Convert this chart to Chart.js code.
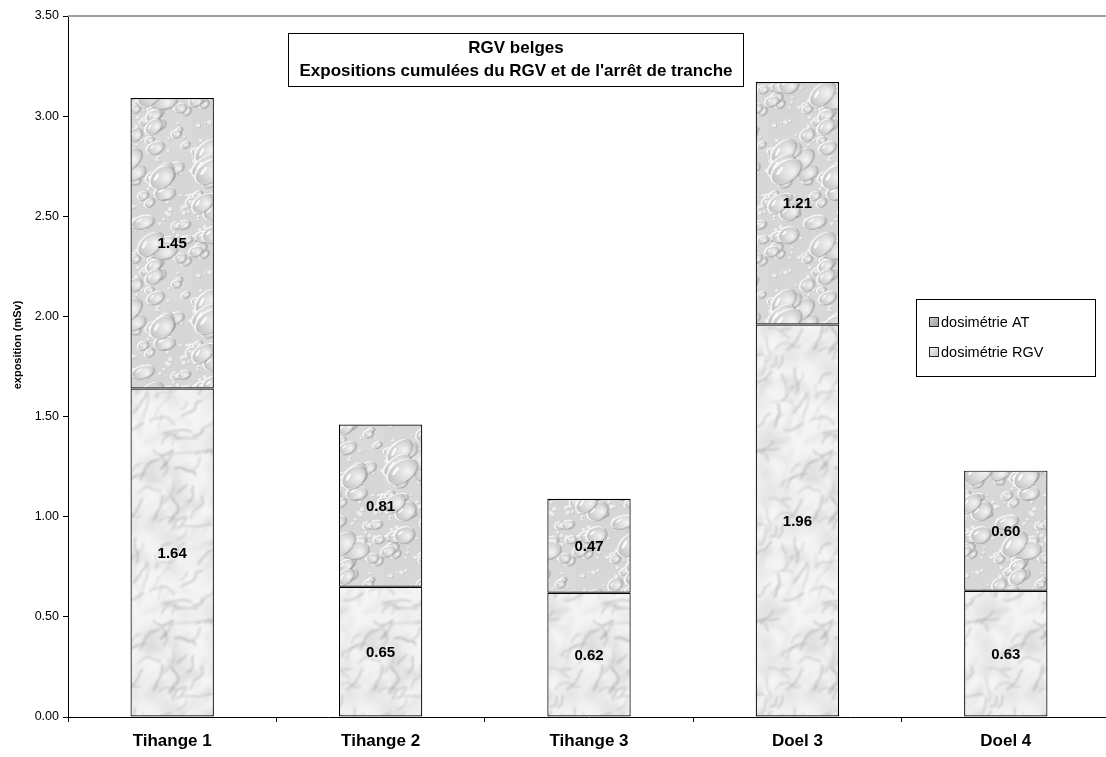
<!DOCTYPE html>
<html>
<head>
<meta charset="utf-8">
<script src="https://cdn.jsdelivr.net/npm/chart.js@4.4.1/dist/chart.umd.min.js"></script>
<style>
  html, body { margin: 0; padding: 0; background: #fff; overflow: hidden; }
  #wrap { width: 1112px; height: 757px; position: relative; }
</style>
</head>
<body>
<div id="wrap"><canvas id="c" width="1112" height="757"></canvas></div>
<script>
// Exposure data (mSv) per unit
const categories = ['Tihange 1', 'Tihange 2', 'Tihange 3', 'Doel 3', 'Doel 4'];
const rgvValues  = [1.64, 0.65, 0.62, 1.96, 0.63];
const atValues   = [1.45, 0.81, 0.47, 1.21, 0.60];
const seriesNames = ['dosimétrie RGV', 'dosimétrie AT'];
const titleLines = ['RGV belges', "Expositions cumulées du RGV et de l'arrêt de tranche"];
const yAxisTitle = 'exposition (mSv)';

const FONT = '"Liberation Sans", Arial, Helvetica, sans-serif';

// Small deterministic generator for the fill textures
function prng(seed) {
  return function () {
    seed |= 0; seed = (seed + 0x6D2B79F5) | 0;
    let t = Math.imul(seed ^ (seed >>> 15), 1 | seed);
    t = (t + Math.imul(t ^ (t >>> 7), 61 | t)) ^ t;
    return ((t ^ (t >>> 14)) >>> 0) / 4294967296;
  };
}

// Draw fn at every wrap offset so the tile repeats without seams
function wrapped(w, h, fn) {
  for (const ox of [-w, 0, w]) for (const oy of [-h, 0, h]) fn(ox, oy);
}

// Water-drop texture tile
function dropletTile(w, h) {
  const c = document.createElement('canvas');
  c.width = w; c.height = h;
  const g = c.getContext('2d');
  const rnd = prng(11);
  const bg = g.createLinearGradient(0, 0, w, h);
  bg.addColorStop(0, '#dbdbdb'); bg.addColorStop(0.5, '#d5d5d5'); bg.addColorStop(1, '#dbdbdb');
  g.fillStyle = bg;
  g.fillRect(0, 0, w, h);
  // tiny background beads
  for (let i = 0; i < 140; i++) {
    const x = rnd() * w, y = rnd() * h, r = 0.8 + rnd() * 1.6;
    wrapped(w, h, (ox, oy) => {
      g.fillStyle = 'rgba(165,165,165,0.5)';
      g.beginPath(); g.arc(x + ox + 0.5, y + oy + 0.6, r, 0, Math.PI * 2); g.fill();
      g.fillStyle = 'rgba(245,245,245,0.85)';
      g.beginPath(); g.arc(x + ox, y + oy, r, 0, Math.PI * 2); g.fill();
    });
  }
  const drops = [];
  for (let i = 0; i < 66; i++) {
    const s = rnd();
    const r = 2.5 + Math.pow(s, 1.9) * 9.5;
    drops.push({ x: rnd() * w, y: rnd() * h, rx: r * (1.05 + rnd() * 0.4), ry: r * (0.7 + rnd() * 0.25), a: -0.8 + rnd() * 0.7 });
  }
  drops.sort((p, q) => p.rx - q.rx);
  for (const d of drops) {
    wrapped(w, h, (ox, oy) => {
      const x = d.x + ox, y = d.y + oy;
      if (x + d.rx + 3 < 0 || x - d.rx - 3 > w || y + d.rx + 3 < 0 || y - d.rx - 3 > h) return;
      g.save();
      g.translate(x, y); g.rotate(d.a);
      g.fillStyle = 'rgba(150,150,150,0.5)';
      g.beginPath(); g.ellipse(0.8, 1.0, d.rx + 0.9, d.ry + 0.9, 0, 0, Math.PI * 2); g.fill();
      g.fillStyle = 'rgba(252,252,252,0.85)';
      g.beginPath(); g.ellipse(-0.8, -0.9, d.rx + 0.6, d.ry + 0.6, 0, 0, Math.PI * 2); g.fill();
      const grad = g.createRadialGradient(d.rx * 0.35, d.ry * 0.4, 0, 0, 0, d.rx * 1.1);
      grad.addColorStop(0, '#f4f4f4');
      grad.addColorStop(0.55, '#d8d8d8');
      grad.addColorStop(1, '#bdbdbd');
      g.fillStyle = grad;
      g.beginPath(); g.ellipse(0, 0, d.rx, d.ry, 0, 0, Math.PI * 2); g.fill();
      if (d.rx > 3.5) {
        g.fillStyle = 'rgba(255,255,255,0.9)';
        g.beginPath(); g.ellipse(-d.rx * 0.3, -d.ry * 0.45, d.rx * 0.32, d.ry * 0.15, -0.3, 0, Math.PI * 2); g.fill();
      }
      g.restore();
    });
  }
  return c;
}

// Marble texture tile
function marbleTile(w, h) {
  const c = document.createElement('canvas');
  c.width = w; c.height = h;
  const g = c.getContext('2d');
  const rnd = prng(33);
  g.fillStyle = '#f3f3f3';
  g.fillRect(0, 0, w, h);
  // soft clouds
  for (let i = 0; i < 70; i++) {
    const x = rnd() * w, y = rnd() * h, r = 6 + rnd() * 16;
    const shade = rnd() < 0.5 ? '185,185,185' : '255,255,255';
    const al = 0.1 + rnd() * 0.15;
    wrapped(w, h, (ox, oy) => {
      const grad = g.createRadialGradient(x + ox, y + oy, 0, x + ox, y + oy, r);
      grad.addColorStop(0, 'rgba(' + shade + ',' + al + ')');
      grad.addColorStop(1, 'rgba(' + shade + ',0)');
      g.fillStyle = grad;
      g.fillRect(x + ox - r, y + oy - r, r * 2, r * 2);
    });
  }
  g.lineCap = 'round';
  g.lineJoin = 'round';
  const drawVeins = (count, blur, lwMin, lwMax, aMin, aMax, dMin, dMax) => {
    g.filter = 'blur(' + blur + 'px)';
    for (let i = 0; i < count; i++) {
      const pts = [];
      let x = rnd() * w, y = rnd() * h;
      pts.push([x, y]);
      const steps = 3 + Math.floor(rnd() * 6);
      let ang = -0.7 + (rnd() - 0.5) * 0.9;
      for (let s = 0; s < steps; s++) {
        ang += (rnd() - 0.5) * 1.1;
        x += Math.cos(ang) * (2 + rnd() * 4);
        y += Math.sin(ang) * (2 + rnd() * 4);
        pts.push([x, y]);
      }
      const dark = dMin + Math.floor(rnd() * (dMax - dMin));
      const style = 'rgba(' + dark + ',' + dark + ',' + dark + ',' + (aMin + rnd() * (aMax - aMin)) + ')';
      const lw = lwMin + rnd() * (lwMax - lwMin);
      wrapped(w, h, (ox, oy) => {
        g.strokeStyle = style;
        g.lineWidth = lw;
        g.beginPath();
        pts.forEach((p, k) => k ? g.lineTo(p[0] + ox, p[1] + oy) : g.moveTo(p[0] + ox, p[1] + oy));
        g.stroke();
      });
    }
  };
  // broad soft streaks, then finer grey veins
  drawVeins(35, 2.0, 2.5, 4.5, 0.1, 0.2, 150, 185);
  drawVeins(60, 0.8, 0.9, 1.9, 0.3, 0.5, 110, 155);
  g.filter = 'none';
  return c;
}

const ctx = document.getElementById('c').getContext('2d');
const dropPattern = ctx.createPattern(dropletTile(96, 150), 'repeat');
const marblePattern = ctx.createPattern(marbleTile(110, 170), 'repeat');

// Value labels centred inside each segment
const segmentLabels = {
  id: 'segmentLabels',
  afterDatasetsDraw(chart) {
    const c = chart.ctx;
    c.save();
    c.font = 'bold 15px ' + FONT;
    c.fillStyle = '#000';
    c.textAlign = 'center';
    c.textBaseline = 'middle';
    chart.data.datasets.forEach((ds, di) => {
      chart.getDatasetMeta(di).data.forEach((bar, i) => {
        const p = bar.getProps(['x', 'y', 'base'], true);
        c.fillText(ds.data[i].toFixed(2), p.x, (p.y + p.base) / 2 + 1);
      });
    });
    c.restore();
  }
};

// Frame line, axis title, title box and legend box
const decorations = {
  id: 'decorations',
  beforeDatasetsDraw(chart) {
    const a = chart.chartArea, c = chart.ctx;
    c.save();
    c.strokeStyle = '#a0a0a0';
    c.lineWidth = 2;
    c.beginPath(); c.moveTo(a.left, a.top); c.lineTo(chart.width, a.top); c.stroke();
    c.restore();
  },
  afterDraw(chart) {
    const c = chart.ctx;
    c.save();
    // vertical axis title
    c.translate(18, 345);
    c.rotate(-Math.PI / 2);
    c.font = 'bold 11px ' + FONT;
    c.fillStyle = '#000';
    c.textAlign = 'center'; c.textBaseline = 'middle';
    c.fillText(yAxisTitle, 0, 0);
    c.restore();

    c.save();
    // title box
    c.fillStyle = '#fff';
    c.fillRect(288.5, 33.5, 455, 53);
    c.strokeStyle = '#000'; c.lineWidth = 1;
    c.strokeRect(288.5, 33.5, 455, 53);
    c.fillStyle = '#000';
    c.font = 'bold 17px ' + FONT;
    c.textAlign = 'center'; c.textBaseline = 'middle';
    c.fillText(titleLines[0], 516, 48);
    c.fillText(titleLines[1], 516, 71);
    // legend box
    c.fillStyle = '#fff';
    c.fillRect(916.5, 299.5, 179, 77);
    c.strokeRect(916.5, 299.5, 179, 77);
    const items = [
      { label: seriesNames[1], y: 322, from: '#d0d0d0', to: '#9a9a9a' },
      { label: seriesNames[0], y: 352, from: '#f4f4f4', to: '#c4c4c4' }
    ];
    c.font = '14.5px ' + FONT;
    c.textAlign = 'left';
    items.forEach(it => {
      const gr = c.createLinearGradient(929, it.y - 4, 938, it.y + 5);
      gr.addColorStop(0, it.from); gr.addColorStop(1, it.to);
      c.fillStyle = gr;
      c.fillRect(929.5, it.y - 4.5, 9, 9);
      c.strokeStyle = '#222';
      c.strokeRect(929.5, it.y - 4.5, 9, 9);
      c.fillStyle = '#000';
      c.fillText(it.label, 941, it.y + 1);
    });
    c.restore();
  }
};

new Chart(ctx, {
  type: 'bar',
  data: {
    labels: categories,
    datasets: [
      { label: seriesNames[0], data: rgvValues, backgroundColor: marblePattern,
        borderColor: '#000', borderWidth: 1.2, borderSkipped: false },
      { label: seriesNames[1], data: atValues, backgroundColor: dropPattern,
        borderColor: '#000', borderWidth: 1.2, borderSkipped: false }
    ]
  },
  options: {
    responsive: false,
    animation: false,
    events: [],
    layout: { padding: { top: 16, right: 2, left: 0, bottom: 0 } },
    datasets: { bar: { barPercentage: 0.4, categoryPercentage: 1.0 } },
    plugins: { legend: { display: false }, tooltip: { enabled: false }, title: { display: false } },
    scales: {
      x: {
        stacked: true,
        offset: true,
        border: { display: true, color: '#000', width: 1 },
        grid: { display: true, offset: true, drawOnChartArea: false, drawTicks: true, tickLength: 5, color: '#000' },
        ticks: { color: '#000', font: { family: FONT, size: 17, weight: 'bold' }, padding: 9, maxRotation: 0 },
        afterFit(scale) { scale.height = 40; }
      },
      y: {
        stacked: true,
        min: 0, max: 3.5,
        border: { display: true, color: '#000', width: 1 },
        grid: { display: true, drawOnChartArea: false, drawTicks: true, tickLength: 5, color: '#000' },
        ticks: { stepSize: 0.5, color: '#000', font: { family: FONT, size: 12.5 }, padding: 4,
                 callback: v => Number(v).toFixed(2) },
        afterFit(scale) { scale.width = 68; }
      }
    }
  },
  plugins: [decorations, segmentLabels]
});
</script>
</body>
</html>
